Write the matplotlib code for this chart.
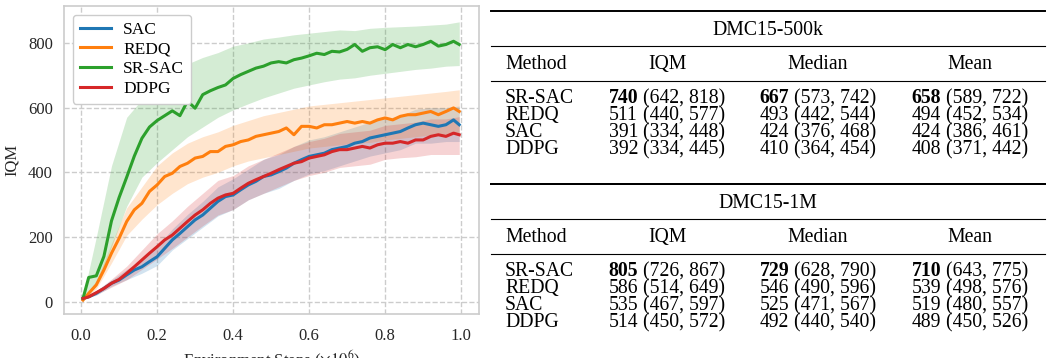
import matplotlib
matplotlib.use("Agg")
import matplotlib.pyplot as plt
from matplotlib.lines import Line2D

plt.rcParams["font.family"] = ["Liberation Serif", "DejaVu Serif"]
plt.rcParams["mathtext.fontset"] = "stix"

# ---- learning curves (IQM vs env steps, x in 1e6) ----
steps = [0.005, 0.02, 0.04, 0.06, 0.08, 0.10, 0.12, 0.14, 0.16, 0.18, 0.20,
         0.22, 0.24, 0.26, 0.28, 0.30, 0.32, 0.34, 0.36, 0.38, 0.40,
         0.42, 0.44, 0.46, 0.48, 0.50, 0.52, 0.54, 0.56, 0.58, 0.60,
         0.62, 0.64, 0.66, 0.68, 0.70, 0.72, 0.74, 0.76, 0.78, 0.80,
         0.82, 0.84, 0.86, 0.88, 0.90, 0.92, 0.94, 0.96, 0.98, 0.995]

sac = [10, 15, 26, 41, 57, 67, 83, 98, 108, 124, 139, 165, 191, 211, 232, 253, 268,
       289, 310, 325, 330, 346, 361, 372, 387, 392, 402, 413, 428, 439, 449, 454, 459,
       470, 475, 480, 490, 495, 506, 511, 516, 521, 526, 537, 547, 552, 547, 542, 547,
       562, 547]
redq = [5, 26, 52, 98, 150, 196, 248, 284, 304, 341, 361, 387, 397, 418, 428, 444, 449,
        464, 464, 480, 485, 495, 500, 511, 516, 521, 526, 537, 516, 542, 542, 537, 547,
        547, 552, 557, 552, 557, 552, 562, 568, 562, 573, 578, 578, 583, 588, 578, 588,
        599, 588]
srsac = [10, 75, 80, 140, 250, 322, 385, 450, 505, 540, 560, 575, 590, 575, 620, 598, 640,
         652, 662, 670, 690, 702, 712, 722, 728, 738, 742, 738, 748, 753, 760, 768, 764,
         774, 772, 780, 795, 774, 785, 788, 779, 795, 785, 795, 788, 795, 805, 790, 795,
         805, 795]
ddpg = [10, 15, 28, 41, 57, 69, 88, 108, 129, 150, 170, 191, 206, 227, 248, 268, 284,
        304, 320, 330, 335, 351, 366, 377, 387, 397, 408, 418, 428, 433, 444, 449, 454,
        464, 470, 470, 475, 480, 475, 485, 490, 490, 495, 490, 500, 500, 511, 516, 511,
        521, 516]

# confidence bands
band_steps = [0.005, 0.04, 0.08, 0.12, 0.16, 0.20, 0.24, 0.28, 0.32, 0.36, 0.40, 0.44,
              0.48, 0.52, 0.56, 0.60, 0.64, 0.68, 0.72, 0.76, 0.80, 0.84, 0.88, 0.92,
              0.96, 0.995]
sac_lo = [8, 20, 48, 68, 88, 112, 160, 195, 230, 265, 285, 315, 335, 350, 375, 395, 405,
          420, 435, 450, 460, 470, 490, 490, 495, 495]
sac_hi = [12, 32, 67, 100, 130, 170, 225, 270, 310, 355, 380, 410, 440, 455, 480, 500, 510,
          525, 540, 555, 565, 575, 595, 600, 600, 605]
redq_lo = [3, 40, 120, 205, 255, 300, 335, 365, 385, 400, 420, 435, 445, 455, 465, 475, 480,
           485, 490, 492, 500, 505, 510, 515, 515, 518]
redq_hi = [8, 65, 180, 290, 355, 420, 460, 490, 510, 525, 545, 560, 575, 585, 595, 605, 610,
           615, 620, 625, 630, 635, 640, 645, 650, 655]
srsac_lo = [5, 50, 170, 295, 385, 430, 470, 510, 540, 570, 593, 612, 630, 645, 660, 670, 680,
            688, 692, 700, 706, 712, 718, 722, 728, 730]
srsac_hi = [15, 200, 420, 570, 625, 665, 700, 735, 755, 770, 790, 800, 812, 818, 825, 830,
            835, 840, 838, 845, 848, 850, 852, 855, 858, 865]
ddpg_lo = [8, 22, 45, 68, 100, 132, 165, 200, 235, 268, 285, 315, 335, 355, 375, 390, 400,
           415, 420, 425, 440, 445, 448, 455, 455, 455]
ddpg_hi = [12, 34, 70, 110, 160, 210, 250, 295, 335, 375, 390, 420, 440, 460, 480, 495, 505,
           520, 525, 530, 545, 550, 555, 565, 565, 572]

# ---- tables ----
methods = ["SR-SAC", "REDQ", "SAC", "DDPG"]
metric_names = ["IQM", "Median", "Mean"]
res_500k = [["740", "(642, 818)", "667", "(573, 742)", "658", "(589, 722)"],
            ["511", "(440, 577)", "493", "(442, 544)", "494", "(452, 534)"],
            ["391", "(334, 448)", "424", "(376, 468)", "424", "(386, 461)"],
            ["392", "(334, 445)", "410", "(364, 454)", "408", "(371, 442)"]]
res_1m = [["805", "(726, 867)", "729", "(628, 790)", "710", "(643, 775)"],
          ["586", "(514, 649)", "546", "(490, 596)", "539", "(498, 576)"],
          ["535", "(467, 597)", "525", "(471, 567)", "519", "(480, 557)"],
          ["514", "(450, 572)", "492", "(440, 540)", "489", "(450, 526)"]]

W, H = 1048, 358
fig = plt.figure(figsize=(W / 100, H / 100), dpi=100)
ax = fig.add_axes([64 / W, 1 - 314 / H, (479 - 64) / W, (314 - 6) / H])

curves = [("SAC", sac, sac_lo, sac_hi, "#1f77b4"),
          ("REDQ", redq, redq_lo, redq_hi, "#ff7f0e"),
          ("SR-SAC", srsac, srsac_lo, srsac_hi, "#2ca02c"),
          ("DDPG", ddpg, ddpg_lo, ddpg_hi, "#d62728")]
for name, y, lo, hi, c in curves:
    ax.fill_between(band_steps, lo, hi, color=c, alpha=0.2, lw=0)
for name, y, lo, hi, c in curves:
    ax.plot(steps, y, color=c, lw=2.2, label=name)

ax.set_xlim(-0.045, 1.047)
ax.set_ylim(-38, 914)
ax.set_xticks([0.0, 0.2, 0.4, 0.6, 0.8, 1.0])
ax.set_yticks([0, 200, 400, 600, 800])
ax.grid(True, ls="--", color="#cccccc", lw=1)
ax.set_axisbelow(True)
for s in ax.spines.values():
    s.set_color("#cccccc")
    s.set_linewidth(1.2)
ax.tick_params(length=0, labelsize=12, colors="#262626")
ax.tick_params(axis="x", pad=10)
ax.tick_params(axis="y", pad=8)
ax.set_ylabel("IQM", fontsize=12, color="#262626", labelpad=6)
ax.set_xlabel(r"Environment Steps ($\times10^6$)", fontsize=12, color="#262626", labelpad=3)
ax.legend(loc="upper left", fontsize=12.5, frameon=True, edgecolor="#cccccc",
          framealpha=1, handlelength=1.8, handletextpad=0.7, labelspacing=0.2,
          borderpad=0.4)


def fx(x):
    return x / W


def fy(y):
    return 1 - y / H


def rule(y, lw):
    fig.add_artist(Line2D([fx(491), fx(1045)], [fy(y), fy(y)], color="black", lw=lw))


renderer = fig.canvas.get_renderer()
fs = 14.2
col_centers = [667, 818, 970]


def draw_table(top, title, rows):
    rule(top, 1.4)
    fig.text(fx(768), fy(top + 24), title, fontsize=fs, ha="center", va="baseline")
    rule(top + 35, 0.8)
    fig.text(fx(505), fy(top + 58), "Method", fontsize=fs, va="baseline")
    for cx, m in zip(col_centers, metric_names):
        fig.text(fx(cx), fy(top + 58), m, fontsize=fs, ha="center", va="baseline")
    rule(top + 70, 0.8)
    for i, (meth, vals) in enumerate(zip(methods, rows)):
        yb = fy(top + 92 + 17 * i)
        fig.text(fx(505), yb, meth, fontsize=fs, va="baseline")
        for j, cx in enumerate(col_centers):
            t1 = fig.text(0, yb, vals[2 * j], fontsize=fs, va="baseline",
                          fontweight="bold" if i == 0 else "normal")
            t2 = fig.text(0, yb, " " + vals[2 * j + 1], fontsize=fs, va="baseline")
            w1 = t1.get_window_extent(renderer).width
            w2 = t2.get_window_extent(renderer).width
            x0 = cx - (w1 + w2) / 2
            t1.set_x(fx(x0))
            t2.set_x(fx(x0 + w1))


draw_table(11, "DMC15-500k", res_500k)
rule(184, 1.4)
draw_table(184, "DMC15-1M", res_1m)

fig.savefig("out.png", dpi=100)
